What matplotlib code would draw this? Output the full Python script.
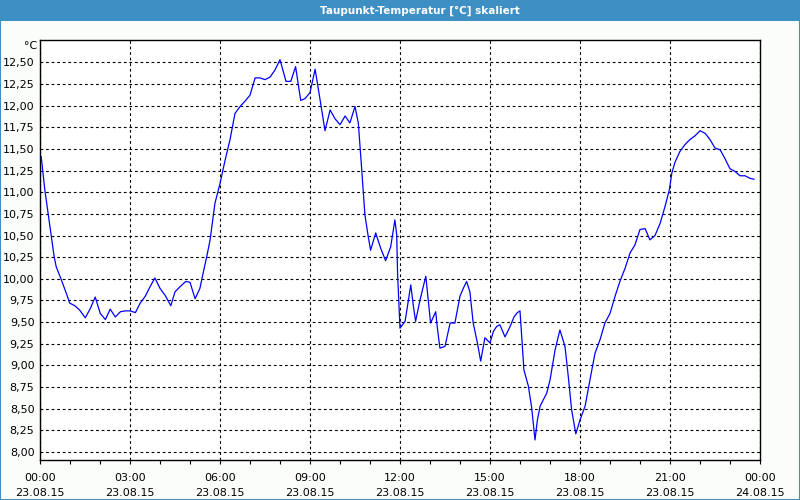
import matplotlib
matplotlib.use('Agg')
import matplotlib.pyplot as plt
from matplotlib.patches import Rectangle
import numpy as np

# Dew point readings, hours since 23.08.15 00:00
hours = [0.04, 0.16, 0.27, 0.38, 0.47, 0.54, 0.71, 0.88, 0.99, 1.16, 1.32, 1.51, 1.68,
         1.84, 2.01, 2.18, 2.34, 2.51, 2.68, 2.84, 3.01, 3.18, 3.34, 3.51, 3.67, 3.83,
         4.0, 4.17, 4.36, 4.5, 4.67, 4.86, 5.0, 5.17, 5.33, 5.44, 5.56, 5.67, 5.83,
         6.0, 6.17, 6.33, 6.5, 6.67, 6.83, 7.0, 7.17, 7.33, 7.5, 7.67, 7.83, 8.0,
         8.2, 8.36, 8.52, 8.69, 8.83, 9.0, 9.17, 9.33, 9.5, 9.67, 9.83, 10.0, 10.17,
         10.33, 10.5, 10.61, 10.72, 10.83, 10.94, 11.02, 11.19, 11.36, 11.52, 11.69,
         11.83, 11.89, 11.92, 12.0, 12.17, 12.36, 12.44, 12.52, 12.67, 12.86, 12.94,
         13.02, 13.19, 13.24, 13.33, 13.5, 13.67, 13.83, 14.0, 14.11, 14.22, 14.33,
         14.44, 14.58, 14.69, 14.83, 15.0, 15.11, 15.22, 15.33, 15.5, 15.67, 15.8,
         15.91, 16.0, 16.13, 16.28, 16.39, 16.5, 16.58, 16.67, 16.89, 17.0, 17.17,
         17.33, 17.5, 17.61, 17.72, 17.86, 18.0, 18.17, 18.33, 18.5, 18.67, 18.83,
         19.0, 19.17, 19.33, 19.5, 19.67, 19.83, 20.0, 20.17, 20.33, 20.5, 20.67,
         20.83, 20.98, 21.06, 21.17, 21.33, 21.5, 21.67, 21.83, 22.0, 22.17, 22.33,
         22.5, 22.67, 22.83, 23.0, 23.17, 23.33, 23.5, 23.67, 23.8]
temps = [11.41, 11.03, 10.76, 10.49, 10.26, 10.14, 9.99, 9.83, 9.72, 9.69, 9.64, 9.55, 9.66,
         9.79, 9.60, 9.53, 9.65, 9.56, 9.62, 9.63, 9.63, 9.61, 9.72, 9.80, 9.91, 10.01,
         9.89, 9.81, 9.69, 9.85, 9.91, 9.97, 9.96, 9.77, 9.89, 10.07, 10.26, 10.45, 10.87,
         11.10, 11.37, 11.60, 11.91, 11.99, 12.05, 12.12, 12.32, 12.32, 12.30, 12.33, 12.41, 12.53,
         12.28, 12.28, 12.45, 12.06, 12.08, 12.15, 12.42, 12.08, 11.71, 11.95, 11.85, 11.78, 11.88,
         11.80, 11.99, 11.80, 11.28, 10.74, 10.49, 10.33, 10.53, 10.35, 10.21, 10.37,
         10.68, 10.51, 10.05, 9.43, 9.51, 9.93, 9.70, 9.51, 9.76, 10.03, 9.76,
         9.49, 9.62, 9.45, 9.20, 9.22, 9.49, 9.49, 9.80, 9.89, 9.97, 9.85,
         9.49, 9.26, 9.05, 9.32, 9.26, 9.39, 9.45, 9.47, 9.33, 9.45, 9.56,
         9.61, 9.63, 8.95, 8.76, 8.51, 8.14, 8.37, 8.53, 8.68, 8.83, 9.18,
         9.41, 9.22, 8.87, 8.49, 8.21, 8.37, 8.53, 8.83, 9.14, 9.30, 9.49,
         9.60, 9.80, 9.97, 10.12, 10.30, 10.39, 10.57, 10.58, 10.45, 10.50, 10.64,
         10.83, 11.03, 11.22, 11.35, 11.47, 11.55, 11.61, 11.65, 11.71, 11.68, 11.61,
         11.51, 11.49, 11.39, 11.27, 11.24, 11.19, 11.19, 11.16, 11.15]

y_ticks = [8.00, 8.25, 8.50, 8.75, 9.00, 9.25, 9.50, 9.75, 10.00, 10.25, 10.50, 10.75,
           11.00, 11.25, 11.50, 11.75, 12.00, 12.25, 12.50]
x_ticks = [0, 3, 6, 9, 12, 15, 18, 21, 24]
x_labels = ['00:00\n23.08.15', '03:00\n23.08.15', '06:00\n23.08.15', '09:00\n23.08.15',
            '12:00\n23.08.15', '15:00\n23.08.15', '18:00\n23.08.15', '21:00\n23.08.15',
            '00:00\n24.08.15']

fig = plt.figure(figsize=(8, 5), dpi=100, facecolor='#fbfdfb')

# window title bar and frame
fig.patches.append(Rectangle((0, 1 - 21 / 500), 1, 21 / 500, transform=fig.transFigure,
                             facecolor='#3d8fc4', edgecolor='none', zorder=0))
fig.patches.append(Rectangle((0.0006, 0.001), 0.9988, 0.99, transform=fig.transFigure,
                             facecolor='none', edgecolor='#3d8fc4', lw=1.5, zorder=0))
fig.text(420 / 800, 1 - 10.5 / 500, 'Taupunkt-Temperatur [°C] skaliert', color='white',
         fontsize=7.5, fontweight='bold', ha='center', va='center')

ax = fig.add_axes([40 / 800, 1 - 460.3 / 500, 720 / 800, 420 / 500])
ax.set_facecolor('white')
ax.plot(hours, temps, color='#0000ff', lw=0.9, zorder=3)

ax.set_xlim(0, 24)
ax.set_ylim(7.905, 12.754)
ax.set_yticks(y_ticks)
ax.set_yticklabels([('%.2f' % v).replace('.', ',') for v in y_ticks], fontsize=8)
ax.set_xticks(x_ticks)
ax.set_xticklabels(x_labels, fontsize=8, linespacing=1.6)
ax.set_xticks(np.arange(0, 25, 1), minor=True)
ax.tick_params(axis='y', length=0, pad=4)
ax.tick_params(axis='x', which='both', length=3, width=0.8, pad=6, direction='out')

ax.grid(True, which='major', color='black', lw=0.8, linestyle=(0, (2.5, 2.5)))
for s in ax.spines.values():
    s.set_color('black')
    s.set_linewidth(1.0)

fig.text(37 / 800, 1 - 46 / 500, '°C', fontsize=8, ha='right', va='center')

fig.savefig('out.png', dpi=100, facecolor=fig.get_facecolor())
